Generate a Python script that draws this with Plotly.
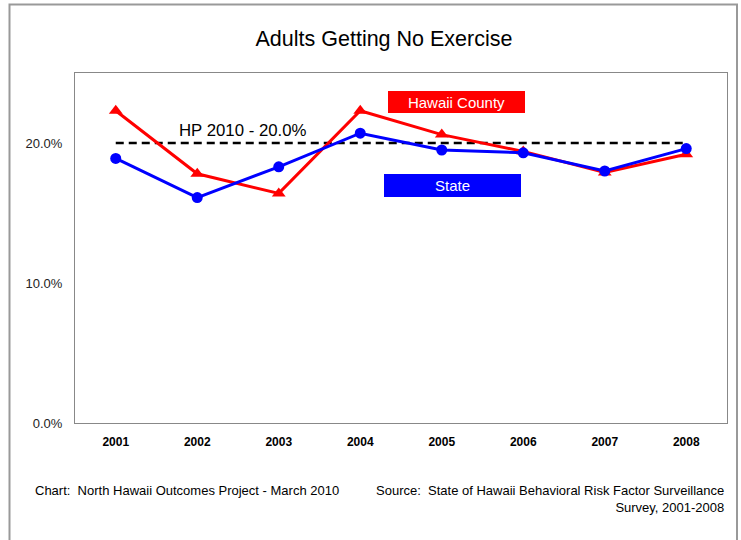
import plotly.graph_objects as go

years = ["2001", "2002", "2003", "2004", "2005", "2006", "2007", "2008"]
hawaii_county = [22.3, 17.8, 16.4, 22.3, 20.6, 19.4, 17.9, 19.2]
state = [18.9, 16.1, 18.3, 20.7, 19.5, 19.3, 18.0, 19.6]
hp2010 = [20.0] * 8
y_ticks = [0, 10, 20]
y_tick_labels = ["0.0%", "10.0%", "20.0%"]

W, H = 741, 540
L, R, T, B = 75, 14, 73, 117
pw, ph = W - L - R, H - T - B

def px(x):
    return (x - L) / pw

def py(y):
    return (H - B - y) / ph

FONT = "Liberation Sans, Arial, sans-serif"

fig = go.Figure()
fig.add_trace(go.Scatter(x=years, y=hp2010, mode="lines",
                         line=dict(color="black", width=2.5, dash="8px,5px"),
                         showlegend=False, hoverinfo="skip"))
fig.add_trace(go.Scatter(x=years, y=hawaii_county, mode="lines+markers",
                         line=dict(color="#FF0000", width=3),
                         marker=dict(symbol="triangle-up", size=12, color="#FF0000"),
                         name="Hawaii County", showlegend=False))
fig.add_trace(go.Scatter(x=years, y=state, mode="lines+markers",
                         line=dict(color="#0000FF", width=3),
                         marker=dict(symbol="circle", size=11, color="#0000FF"),
                         name="State", showlegend=False))

fig.update_layout(
    width=W, height=H,
    margin=dict(l=L, r=R, t=T, b=B),
    paper_bgcolor="white", plot_bgcolor="white",
    font=dict(family=FONT, color="black"),
    title=dict(text="Adults Getting No Exercise", x=384 / W, xanchor="center",
               y=1 - 38 / H, yanchor="middle", font=dict(size=21.5, color="black")),
    xaxis=dict(type="category", showgrid=False, showline=True, mirror=True,
               linecolor="#888888", linewidth=1, ticks="", ticklabelstandoff=8,
               tickfont=dict(size=12, color="black"),
               tickprefix="<b>", ticksuffix="</b>", range=[-0.5, 7.5]),
    yaxis=dict(range=[0, 25], showgrid=False, showline=True, mirror=True,
               linecolor="#888888", linewidth=1, zeroline=False,
               tickvals=y_ticks, ticktext=y_tick_labels, ticks="",
               ticklabelstandoff=9,
               tickfont=dict(size=13, color="#222222")),
)

fig.add_annotation(xref="paper", yref="paper", x=px(456.5), y=py(102),
                   xanchor="center", yanchor="middle",
                   text="Hawaii County", showarrow=False, bgcolor="#FF0000",
                   width=137, height=22, borderpad=0, borderwidth=0,
                   font=dict(size=15, color="white"))
fig.add_annotation(xref="paper", yref="paper", x=px(452.5), y=py(185.5),
                   xanchor="center", yanchor="middle",
                   text="State", showarrow=False, bgcolor="#0000FF",
                   width=137, height=23, borderpad=0, borderwidth=0,
                   font=dict(size=15, color="white"))
fig.add_annotation(xref="paper", yref="paper", x=px(243), y=py(130),
                   xanchor="center", yanchor="middle",
                   text="HP 2010 - 20.0%", showarrow=False,
                   font=dict(size=16.8, color="black"))
fig.add_annotation(xref="paper", yref="paper", x=px(33), y=py(490),
                   xanchor="left", yanchor="middle",
                   text="Chart:  North Hawaii Outcomes Project - March 2010",
                   showarrow=False, font=dict(size=13, color="black"))
fig.add_annotation(xref="paper", yref="paper", x=px(726), y=py(481),
                   xanchor="right", yanchor="top", align="right",
                   text="Source:  State of Hawaii Behavioral Risk Factor Surveillance<br>Survey, 2001-2008",
                   showarrow=False, font=dict(size=13, color="black"))

fig.add_shape(type="rect", xref="paper", yref="paper",
              x0=px(9.5), x1=px(737), y0=py(600), y1=py(4.5),
              line=dict(color="#999999", width=2), fillcolor="rgba(0,0,0,0)",
              layer="below")

fig.write_html("out.html", config={"displayModeBar": False},
               post_script="document.body.style.margin='0';document.body.style.padding='0';")
